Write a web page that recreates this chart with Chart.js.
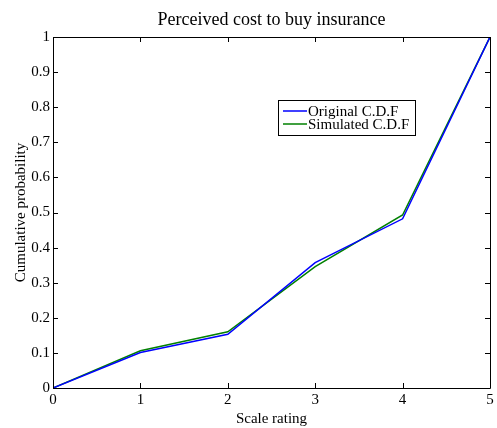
<!DOCTYPE html>
<html>
<head>
<meta charset="utf-8">
<script src="https://cdn.jsdelivr.net/npm/chart.js@4/dist/chart.umd.min.js"></script>
<style>
  html, body { margin: 0; padding: 0; background: #fff; }
  #wrap { width: 497px; height: 428px; }
</style>
</head>
<body>
<div id="wrap"><canvas id="c" width="497" height="428"></canvas></div>
<script>
// Scale ratings and cumulative probabilities
const ratings = [0, 1, 2, 3, 4, 5];
const originalCdf = [0, 0.101, 0.153, 0.357, 0.482, 1];
const simulatedCdf = [0, 0.106, 0.160, 0.346, 0.493, 1];
const xTickLabels = ['0', '1', '2', '3', '4', '5'];
const yTickLabels = ['0', '0.1', '0.2', '0.3', '0.4', '0.5', '0.6', '0.7', '0.8', '0.9', '1'];
const seriesNames = ['Original C.D.F', 'Simulated C.D.F'];
const titleText = 'Perceived cost to buy insurance';
const xTitle = 'Scale rating';
const yTitle = 'Cumulative probability';

const FONT = '"Liberation Serif", "Times New Roman", serif';

const toPoints = vals => ratings.map((r, i) => ({ x: r, y: vals[i] }));

// Boxed axes with inward ticks on all four sides, plus title and legend
const framePlugin = {
  id: 'frame',
  afterDraw(chart) {
    const { ctx, chartArea: a, scales } = chart;
    const xs = scales.x, ys = scales.y;
    const tl = 5;
    ctx.save();
    ctx.strokeStyle = '#000';
    ctx.lineWidth = 1;
    ctx.beginPath();
    ctx.rect(Math.round(a.left) + 0.5, Math.round(a.top) + 0.5,
             Math.round(a.right - a.left), Math.round(a.bottom - a.top));
    ctx.stroke();
    ctx.beginPath();
    xs.ticks.forEach(t => {
      const px = Math.round(xs.getPixelForValue(t.value)) + 0.5;
      ctx.moveTo(px, a.bottom); ctx.lineTo(px, a.bottom - tl);
      ctx.moveTo(px, a.top); ctx.lineTo(px, a.top + tl);
    });
    ys.ticks.forEach(t => {
      const py = Math.round(ys.getPixelForValue(t.value)) + 0.5;
      ctx.moveTo(a.left, py); ctx.lineTo(a.left + tl, py);
      ctx.moveTo(a.right, py); ctx.lineTo(a.right - tl, py);
    });
    ctx.stroke();

    // Title
    ctx.fillStyle = '#000';
    ctx.font = '18px ' + FONT;
    ctx.textAlign = 'center';
    ctx.textBaseline = 'middle';
    ctx.fillText(titleText, (a.left + a.right) / 2, 20);

    // Legend
    const lx = 278, ly = 100, lw = 137, lh = 35;
    ctx.fillStyle = '#fff';
    ctx.fillRect(lx, ly, lw, lh);
    ctx.strokeStyle = '#000';
    ctx.strokeRect(lx + 0.5, ly + 0.5, lw, lh);
    ctx.font = '15px ' + FONT;
    ctx.textAlign = 'left';
    chart.data.datasets.forEach((ds, i) => {
      const yy = ly + 11 + i * 13;
      ctx.strokeStyle = ds.borderColor;
      ctx.lineWidth = 1.5;
      ctx.beginPath();
      ctx.moveTo(lx + 5, yy); ctx.lineTo(lx + 29, yy);
      ctx.stroke();
      ctx.fillStyle = '#000';
      ctx.fillText(ds.label, lx + 30, yy + 1);
    });
    ctx.restore();
  }
};

new Chart(document.getElementById('c'), {
  type: 'line',
  data: {
    datasets: [
      { label: seriesNames[0], data: toPoints(originalCdf), borderColor: '#0000ff',
        borderWidth: 1.5, pointRadius: 0, tension: 0, fill: false },
      { label: seriesNames[1], data: toPoints(simulatedCdf), borderColor: '#008000',
        borderWidth: 1.5, pointRadius: 0, tension: 0, fill: false }
    ]
  },
  options: {
    responsive: false,
    animation: false,
    devicePixelRatio: 1,
    layout: { padding: { left: 0, right: 7, top: 37, bottom: 0 } },
    plugins: { legend: { display: false }, title: { display: false }, tooltip: { enabled: false } },
    scales: {
      x: {
        type: 'linear', min: 0, max: 5,
        grid: { display: false, drawTicks: false }, border: { display: false },
        ticks: { stepSize: 1, color: '#000', padding: 3, maxRotation: 0,
                 font: { family: FONT, size: 15 },
                 callback: (v, i) => xTickLabels[i] },
        title: { display: true, text: xTitle, color: '#000', padding: { top: 4, bottom: 0 },
                 font: { family: FONT, size: 15 } },
        afterFit: s => { s.height = 40; }
      },
      y: {
        type: 'linear', min: 0, max: 1,
        grid: { display: false, drawTicks: false }, border: { display: false },
        ticks: { stepSize: 0.1, color: '#000', padding: 3,
                 font: { family: FONT, size: 15 },
                 callback: (v, i) => yTickLabels[i] },
        title: { display: true, text: yTitle, color: '#000', padding: { top: 12, bottom: 0 },
                 font: { family: FONT, size: 15 } },
        afterFit: s => { s.width = 53; }
      }
    }
  },
  plugins: [framePlugin]
});
</script>
</body>
</html>
